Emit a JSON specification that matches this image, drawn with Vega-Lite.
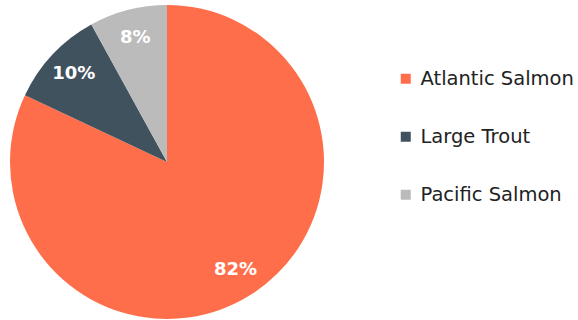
{
  "$schema": "https://vega.github.io/schema/vega-lite/v6.json",
  "width": 334,
  "height": 324,
  "padding": 0,
  "background": "white",
  "config": {"view": {"stroke": null}},
  "data": {"values": [
    {"species": "Atlantic Salmon", "share": 82, "label": "82%", "ord": 1},
    {"species": "Large Trout", "share": 10, "label": "10%", "ord": 2},
    {"species": "Pacific Salmon", "share": 8, "label": "8%", "ord": 3}
  ]},
  "encoding": {
    "theta": {"field": "share", "type": "quantitative", "stack": true},
    "order": {"field": "ord", "type": "quantitative"},
    "color": {
      "field": "species", "type": "nominal",
      "scale": {"domain": ["Atlantic Salmon", "Large Trout", "Pacific Salmon"], "range": ["#FF6E4A", "#41525F", "#BBBBBB"]},
      "legend": {
        "title": null, "orient": "none", "legendX": 396, "legendY": 69,
        "symbolType": "square", "symbolSize": 100, "symbolStrokeWidth": 0,
        "labelFont": "DejaVu Sans", "labelFontSize": 19.5, "labelColor": "#222222",
        "labelOffset": 5, "rowPadding": 37, "labelLimit": 300
      }
    }
  },
  "layer": [
    {"mark": {"type": "arc", "outerRadius": 157}},
    {"mark": {"type": "text", "radius": 128, "font": "DejaVu Sans", "fontWeight": "bold", "fontSize": 18, "fill": "white"},
     "encoding": {"text": {"field": "label"}, "color": {"value": "white"}}}
  ]
}
